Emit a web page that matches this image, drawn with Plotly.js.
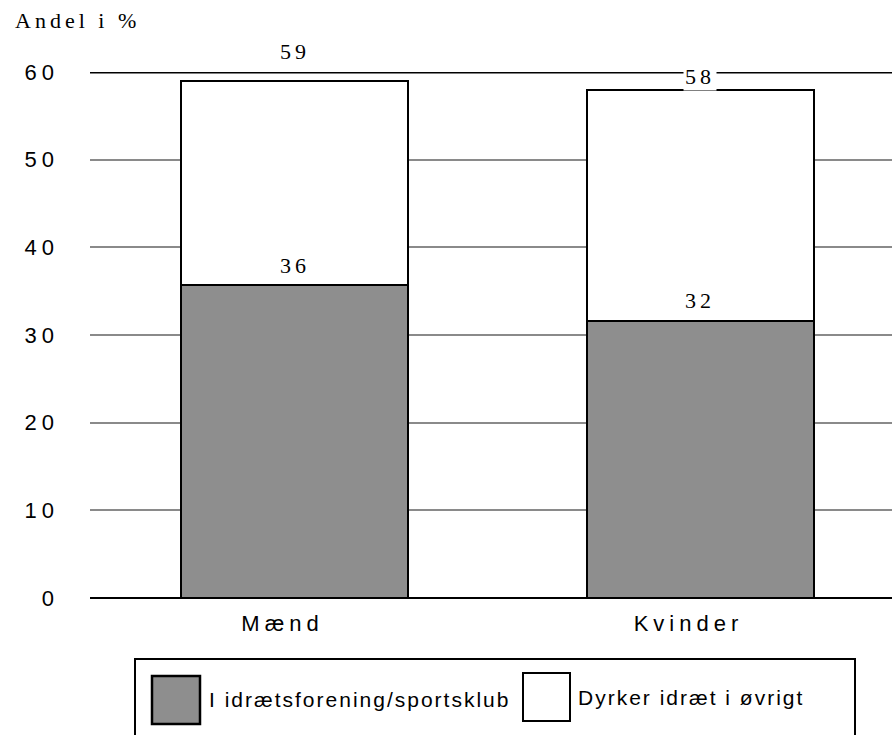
<!DOCTYPE html>
<html>
<head>
<meta charset="utf-8">
<script src="https://cdn.plot.ly/plotly-3.0.1.min.js"></script>
<style>
  html, body { margin: 0; padding: 0; background: #fff; }
  #chart { width: 892px; height: 735px; }
  .xtick text, .ytick text { letter-spacing: 5px; }
  .annotation-text[style*="Serif"] { letter-spacing: 4px; }
  .annotation-text[style*="Liberation Sans"] { letter-spacing: 2px; }
</style>
</head>
<body>
<div id="chart"></div>
<script>
// ---- data ----
const categories = ['Mænd', 'Kvinder'];
const clubValues = [35.7, 31.6];          // I idrætsforening/sportsklub
const otherValues = [23.3, 26.3];         // Dyrker idræt i øvrigt
const seriesNames = ['I idrætsforening/sportsklub', 'Dyrker idræt i øvrigt'];
const yTicks = [0, 10, 20, 30, 40, 50, 60];
const yTitle = 'Andel i %';

// ---- styling ----
const W = 892, H = 735;
const M = { l: 90, r: 0, t: 72, b: 137 };
const plotW = W - M.l - M.r, plotH = H - M.t - M.b;
const px = x => (x - M.l) / plotW;      // pixel -> paper x
const py = y => (H - M.b - y) / plotH;  // pixel -> paper y
const grey = '#8e8e8e';
const serif = { family: 'Liberation Serif, Times New Roman, serif', size: 22, color: '#000' };
const sans = { family: 'Liberation Sans, Arial, sans-serif', size: 22, color: '#000' };
const legendFont = { family: 'Liberation Sans, Arial, sans-serif', size: 21, color: '#000' };
const clubLabelShift = [20, 20];
const totalLabelShift = [29, 13.5];
const totalLabelBg = ['rgba(0,0,0,0)', '#ffffff'];

const totals = clubValues.map((v, i) => v + otherValues[i]);

const traces = [
  { type: 'bar', x: categories, y: clubValues, name: seriesNames[0], width: 0.559,
    marker: { color: grey, line: { color: '#000', width: 2 } }, hoverinfo: 'none' },
  { type: 'bar', x: categories, y: otherValues, name: seriesNames[1], width: 0.559,
    marker: { color: '#ffffff', line: { color: '#000', width: 2 } }, hoverinfo: 'none' }
];

const annotations = [];
categories.forEach((c, i) => {
  annotations.push({ x: c, y: clubValues[i], xref: 'x', yref: 'y', text: String(Math.round(clubValues[i])),
    showarrow: false, yanchor: 'middle', yshift: clubLabelShift[i], font: serif });
  annotations.push({ x: c, y: totals[i], xref: 'x', yref: 'y', text: String(Math.round(totals[i])),
    showarrow: false, yanchor: 'middle', yshift: totalLabelShift[i], font: serif,
    bgcolor: totalLabelBg[i], borderpad: 1 });
});
annotations.push({ x: px(13), y: py(21), xref: 'paper', yref: 'paper', text: yTitle, showarrow: false,
  xanchor: 'left', yanchor: 'middle', font: serif });
// legend texts
annotations.push({ x: px(207), y: py(699), xref: 'paper', yref: 'paper', text: seriesNames[0], showarrow: false,
  xanchor: 'left', yanchor: 'middle', font: legendFont });
annotations.push({ x: px(576), y: py(697), xref: 'paper', yref: 'paper', text: seriesNames[1], showarrow: false,
  xanchor: 'left', yanchor: 'middle', font: legendFont });

const shapes = [
  // top line at 60
  { type: 'line', xref: 'paper', yref: 'y', x0: 0, x1: 1, y0: yTicks[yTicks.length - 1], y1: yTicks[yTicks.length - 1],
    line: { color: '#000', width: 3 } },
  // legend frame
  { type: 'rect', xref: 'paper', yref: 'paper', x0: px(135), x1: px(855), y0: py(659), y1: py(760),
    line: { color: '#000', width: 2 }, fillcolor: 'rgba(0,0,0,0)' },
  // legend swatches
  { type: 'rect', xref: 'paper', yref: 'paper', x0: px(152), x1: px(200), y0: py(676), y1: py(724),
    line: { color: '#000', width: 2.5 }, fillcolor: grey },
  { type: 'rect', xref: 'paper', yref: 'paper', x0: px(523), x1: px(570), y0: py(673), y1: py(721),
    line: { color: '#000', width: 2 }, fillcolor: '#ffffff' }
];

const layout = {
  width: W, height: H,
  margin: M,
  paper_bgcolor: '#fff', plot_bgcolor: '#fff',
  barmode: 'stack',
  showlegend: false,
  xaxis: { type: 'category', range: [-0.5037, 1.4717], showgrid: false, zeroline: false, showline: false,
    ticks: '', tickfont: sans, ticklabelstandoff: 10, ticklabelshift: -12, fixedrange: true },
  yaxis: { range: [0, 60], tickvals: yTicks, showgrid: true, gridcolor: '#8a8a8a', gridwidth: 2,
    zeroline: true, zerolinecolor: '#000', zerolinewidth: 2, showline: false, ticks: '',
    tickfont: sans, ticklabelstandoff: 30, fixedrange: true },
  annotations: annotations,
  shapes: shapes
};

Plotly.newPlot('chart', traces, layout, { displayModeBar: false, staticPlot: true });
</script>
</body>
</html>
